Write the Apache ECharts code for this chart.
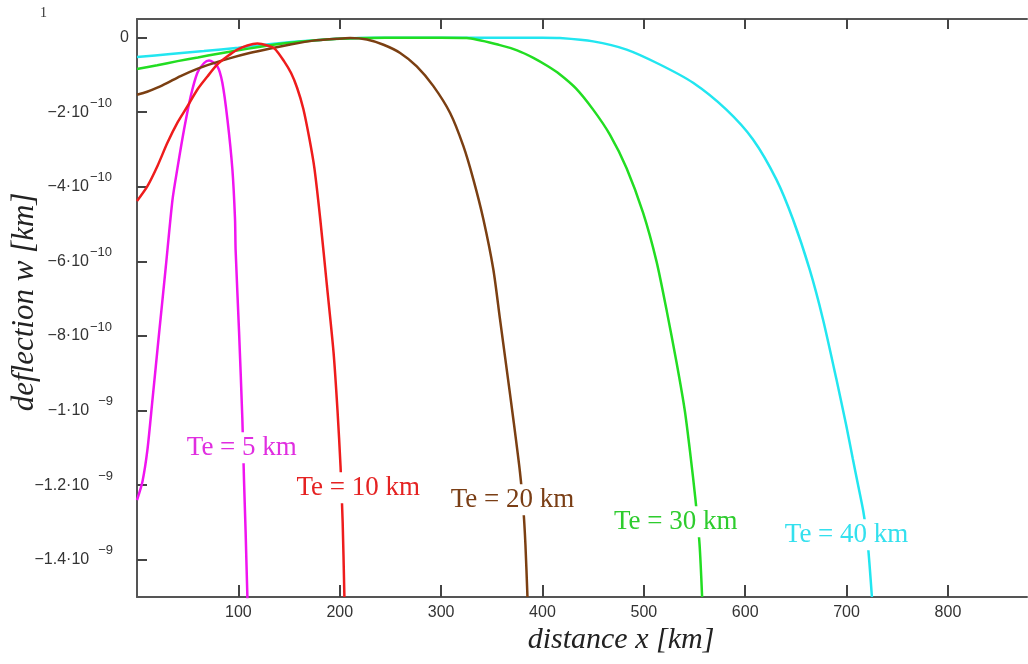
<!DOCTYPE html>
<html>
<head>
<meta charset="utf-8">
<script src="https://cdn.jsdelivr.net/npm/echarts@6/dist/echarts.min.js"></script>
<style>html,body{margin:0;padding:0;background:#fff;}#c{width:1028px;height:664px;}</style>
</head>
<body>
<div id="c"></div>
<script>
// deflection values in units of 1e-10 km
const te5X  = [0, 5.4, 10.3, 15.3, 21.9, 28.4, 35, 39.9, 46.5, 53, 59.6, 66.2, 71.1, 79.3, 84.2, 89.2, 94.1, 96.7, 97.3, 100.7, 103.9, 105.6, 107.2, 108.9, 110.5];
const te5W  = [-12.4, -11.9, -11.05, -9.7, -7.9, -6.15, -4.35, -3.5, -2.45, -1.57, -0.94, -0.68, -0.61, -0.77, -1.21, -2.19, -3.53, -4.87, -5.7, -7.9, -10.2, -11.9, -13.3, -15.0, -16.2];

const te10X = [0, 10.3, 20.2, 30, 39.9, 49.8, 59.6, 69.5, 79.3, 89.2, 99, 108.9, 118.7, 128.6, 136, 145, 152, 158, 164, 170, 175, 180.8, 187.4, 193.9, 197.8, 200.8, 202.9, 204.6];
const te10W = [-4.38, -3.98, -3.44, -2.82, -2.28, -1.84, -1.39, -1.04, -0.72, -0.50, -0.32, -0.21, -0.16, -0.21, -0.30, -0.63, -0.95, -1.35, -1.9, -2.7, -3.5, -4.87, -6.66, -8.44, -10.0, -11.5, -13.0, -15.0];

const te20X = [0, 10, 20, 30, 43, 60, 75, 92, 110, 131.5, 150, 174, 197, 210.3, 226.8, 243.2, 259.6, 276, 292.4, 308.9, 322, 331.8, 341.7, 351.5, 358.1, 364.7, 371.2, 377.8, 381.2, 383.2, 385.2];
const te20W = [-1.53, -1.45, -1.34, -1.21, -1.03, -0.83, -0.69, -0.55, -0.42, -0.29, -0.19, -0.08, -0.03, -0.01, -0.05, -0.19, -0.41, -0.77, -1.30, -2.02, -2.91, -3.80, -4.87, -6.21, -7.55, -8.89, -10.22, -11.65, -12.66, -13.6, -15.0];

const te30X = [0, 20, 40, 60, 80, 100, 120, 140, 160, 180, 200, 230, 260, 300, 325.3, 358, 375, 391, 405, 417, 433, 450, 466.5, 483, 499.3, 512.5, 522.4, 532.2, 540.4, 546, 551, 555, 557.5];
const te30W = [-0.84, -0.74, -0.63, -0.53, -0.43, -0.34, -0.25, -0.17, -0.11, -0.06, -0.03, -0.01, 0, 0, -0.01, -0.2, -0.34, -0.54, -0.76, -0.98, -1.36, -1.93, -2.6, -3.5, -4.7, -6.0, -7.3, -8.7, -10.0, -11.2, -12.4, -13.6, -15.0];

const te40X = [0, 33, 66, 100, 120, 140, 165, 190, 220, 250, 300, 350, 400, 417.2, 450, 483, 515.8, 548.6, 581.4, 607.7, 630.7, 647.1, 663.5, 676.7, 689.9, 699.7, 706.2, 711, 716.5, 721, 725];
const te40W = [-0.52, -0.44, -0.36, -0.27, -0.21, -0.15, -0.09, -0.04, -0.01, 0, 0, 0, 0, -0.01, -0.10, -0.32, -0.72, -1.21, -1.93, -2.73, -3.80, -4.87, -6.21, -7.55, -9.15, -10.40, -11.30, -11.95, -12.7, -13.6, -15.0];

const seriesNames  = ['Te = 5 km', 'Te = 10 km', 'Te = 20 km', 'Te = 30 km', 'Te = 40 km'];
const labelAnchorX = [103.4, 218.2, 370.4, 531.5, 700];
const labelAnchorW = [-11.0, -12.07, -12.39, -12.98, -13.33];

const xTickValues = [100, 200, 300, 400, 500, 600, 700, 800];
const yTickValues = [0, -2, -4, -6, -8, -10, -12, -14];
const yTickMantissa = ['0', '\u22122\u00b710', '\u22124\u00b710', '\u22126\u00b710', '\u22128\u00b710', '\u22121\u00b710', '\u22121.2\u00b710', '\u22121.4\u00b710'];
const yTickExponent = ['', '\u221210', '\u221210', '\u221210', '\u221210', '\u22129', '\u22129', '\u22129'];

const lineColors = ['#f014f0', '#ee1c1c', '#7b3f12', '#22dd22', '#22e6f0'];
const textColors = ['#e02ee0', '#e52222', '#7a3e15', '#2ecc2e', '#33e0ee'];
const lineZ = [3, 6, 4, 2, 1];

const xs = [te5X, te10X, te20X, te30X, te40X];
const ws = [te5W, te10W, te20W, te30W, te40W];

const chart = echarts.init(document.getElementById('c'), null, {renderer: 'canvas'});

const series = seriesNames.map((name, i) => ({
  name: name,
  type: 'line',
  data: xs[i].map((x, j) => [x, ws[i][j]]),
  showSymbol: false,
  smooth: 0.25,
  clip: true,
  lineStyle: {color: lineColors[i], width: 2.5},
  z: lineZ[i],
  markPoint: {
    z: 20,
    symbol: 'rect',
    symbolSize: 1,
    silent: true,
    itemStyle: {color: 'rgba(0,0,0,0)'},
    label: {
      show: true,
      position: 'inside',
      formatter: '{b}',
      color: textColors[i],
      fontFamily: 'Liberation Serif',
      fontSize: 27,
      backgroundColor: '#fff',
      padding: [2, 3]
    },
    data: [{name: name, coord: [labelAnchorX[i], labelAnchorW[i]]}]
  }
}));

const axisLineStyle = {color: '#555', width: 2};

chart.setOption({
  animation: false,
  backgroundColor: '#fff',
  grid: {left: 137, right: 1, top: 19, bottom: 67, containLabel: false},
  xAxis: [{
    type: 'value', min: 0, max: 878, position: 'bottom',
    splitLine: {show: false},
    axisLine: {show: true, onZero: false, lineStyle: axisLineStyle},
    axisTick: {show: true, inside: true, length: 12, customValues: xTickValues, lineStyle: {color: '#444', width: 2}},
    axisLabel: {show: true, customValues: xTickValues, margin: 8, fontFamily: 'Liberation Sans', fontSize: 16, color: '#333'}
  }, {
    type: 'value', min: 0, max: 878, position: 'top',
    splitLine: {show: false},
    axisLine: {show: true, onZero: false, lineStyle: axisLineStyle},
    axisTick: {show: true, inside: true, length: 10, customValues: xTickValues, lineStyle: {color: '#444', width: 2}},
    axisLabel: {show: false}
  }],
  yAxis: {
    type: 'value', min: -15, max: 0.5,
    splitLine: {show: false},
    axisLine: {show: true, onZero: false, lineStyle: axisLineStyle},
    axisTick: {show: true, inside: true, length: 10, customValues: yTickValues, lineStyle: {color: '#444', width: 2}},
    axisLabel: {
      show: true, customValues: yTickValues, margin: 8,
      formatter: function (v) {
        const i = yTickValues.indexOf(Math.round(v));
        if (i < 0) return '';
        if (!yTickExponent[i]) return '{b|' + yTickMantissa[i] + '}';
        const st = yTickExponent[i].length > 2 ? 's10' : 's9';
        return '{b|' + yTickMantissa[i] + '}{' + st + '|' + yTickExponent[i] + '}';
      },
      rich: {
        b: {fontFamily: 'Liberation Sans', fontSize: 16, color: '#333'},
        s10: {fontFamily: 'Liberation Sans', fontSize: 13, color: '#333', padding: [0, 17, 18, 1]},
        s9: {fontFamily: 'Liberation Sans', fontSize: 13, color: '#333', padding: [0, 16, 18, 9]}
      }
    }
  },
  series: series,
  graphic: [
    {type: 'text', left: 40, top: 6, style: {text: '1', font: '14px "Liberation Serif"', fill: '#333'}},
    {type: 'text', x: 25, y: 302, rotation: Math.PI / 2,
     style: {text: 'deflection w [km]', font: 'italic 31px "Liberation Serif"', fill: '#222', align: 'center', verticalAlign: 'middle'}},
    {type: 'text', x: 621, y: 640,
     style: {text: 'distance x [km]', font: 'italic 30px "Liberation Serif"', fill: '#222', align: 'center', verticalAlign: 'middle'}}
  ]
});
</script>
</body>
</html>
